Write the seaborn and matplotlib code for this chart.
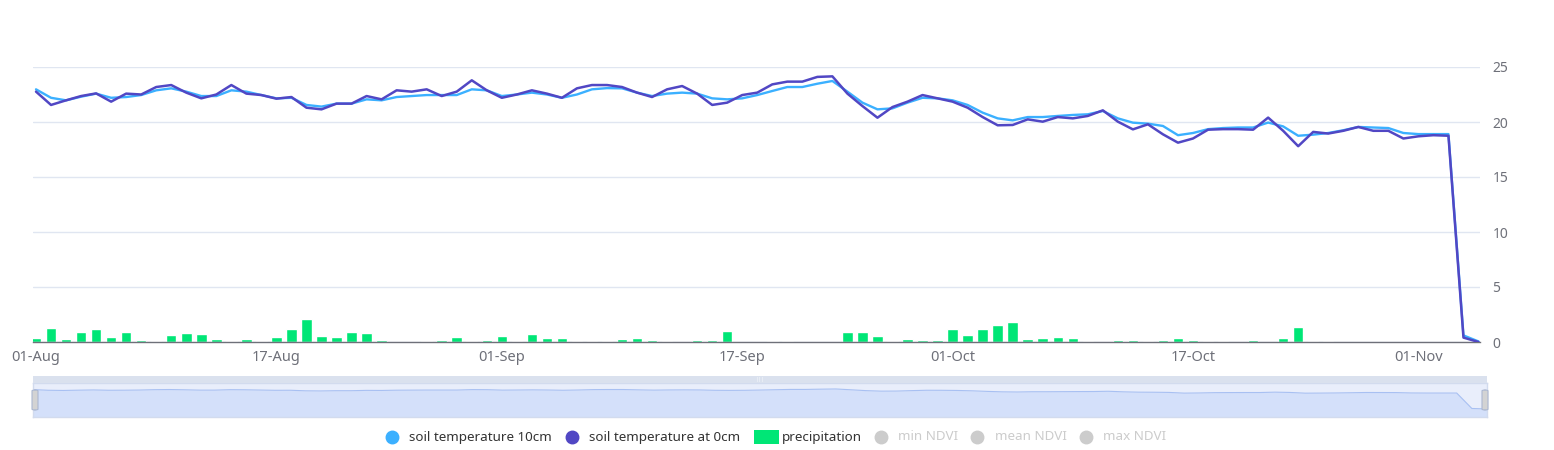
import numpy as np
import pandas as pd
import matplotlib
matplotlib.use("Agg")
import matplotlib.pyplot as plt
from matplotlib.lines import Line2D
from matplotlib.patches import Rectangle, FancyBboxPatch
import seaborn as sns

# daily values, 01-Aug .. 05-Nov
soil_10cm = [22.97, 22.2, 21.97, 22.3, 22.58, 22.2, 22.27, 22.45, 22.88, 23.06,
             22.76, 22.36, 22.36, 22.88, 22.76, 22.45, 22.15, 22.2, 21.55, 21.4,
             21.67, 21.67, 22.06, 21.97, 22.27, 22.36, 22.45, 22.45, 22.45, 22.97,
             22.88, 22.36, 22.5, 22.67, 22.5, 22.2, 22.5, 22.97, 23.08, 23.06,
             22.67, 22.36, 22.58, 22.67, 22.58, 22.15, 22.06, 22.15, 22.45, 22.82,
             23.18, 23.18, 23.48, 23.73, 22.76, 21.76, 21.15, 21.24, 21.76, 22.2,
             22.15, 21.97, 21.55, 20.85, 20.33, 20.15, 20.45, 20.45, 20.55, 20.64,
             20.7, 21.0, 20.33, 19.94, 19.85, 19.64, 18.8, 19.0, 19.35, 19.45,
             19.5, 19.5, 19.95, 19.6, 18.75, 18.85, 19.0, 19.25, 19.55, 19.5,
             19.45, 19.0, 18.9, 18.9, 18.9, 0.6, 0.05]
soil_0cm = [22.76, 21.55, 21.97, 22.36, 22.6, 21.85, 22.58, 22.5, 23.18, 23.36,
            22.67, 22.15, 22.5, 23.36, 22.58, 22.45, 22.12, 22.27, 21.3, 21.15,
            21.67, 21.67, 22.36, 22.06, 22.88, 22.76, 22.97, 22.36, 22.76, 23.79,
            22.88, 22.2, 22.5, 22.88, 22.58, 22.2, 23.06, 23.36, 23.36, 23.18,
            22.67, 22.27, 22.97, 23.27, 22.58, 21.55, 21.76, 22.45, 22.67, 23.42,
            23.67, 23.67, 24.1, 24.15, 22.58, 21.45, 20.39, 21.36, 21.85, 22.45,
            22.15, 21.85, 21.3, 20.45, 19.7, 19.73, 20.24, 20.03, 20.45, 20.33,
            20.55, 21.06, 20.03, 19.33, 19.79, 18.88, 18.12, 18.5, 19.3, 19.35,
            19.35, 19.3, 20.4, 19.2, 17.8, 19.1, 18.95, 19.2, 19.55, 19.2,
            19.2, 18.5, 18.7, 18.8, 18.75, 0.4, 0.0]
precipitation = [0.39, 1.25, 0.27, 0.94, 1.2, 0.45, 0.88, 0.18, 0.09, 0.64,
                 0.85, 0.7, 0.24, 0.09, 0.27, 0.12, 0.45, 1.18, 2.12, 0.55,
                 0.42, 0.88, 0.79, 0.15, 0.02, 0.0, 0.09, 0.18, 0.45, 0.09,
                 0.18, 0.52, 0.09, 0.73, 0.39, 0.39, 0.09, 0.09, 0.06, 0.27,
                 0.39, 0.21, 0.09, 0.0, 0.15, 0.18, 1.0, 0.03, 0.03, 0.09,
                 0.09, 0.0, 0.03, 0.0, 0.94, 0.88, 0.52, 0.09, 0.27, 0.15,
                 0.18, 1.15, 0.64, 1.21, 1.58, 1.85, 0.24, 0.39, 0.42, 0.39,
                 0.09, 0.03, 0.18, 0.18, 0.12, 0.18, 0.33, 0.15, 0.12, 0.12,
                 0.03, 0.18, 0.0, 0.39, 1.33, 0.12, 0.12, 0.03, 0.0, 0.0,
                 0.0, 0.0, 0.0, 0.0, 0.0, 0.0, 0.0]
tick_days = [0, 16, 31, 47, 61, 77, 92]
tick_labels = ["01-Aug", "17-Aug", "01-Sep", "17-Sep", "01-Oct", "17-Oct", "01-Nov"]
y_ticks = [0, 5, 10, 15, 20, 25]

df = pd.DataFrame({"day": np.arange(len(soil_10cm)), "soil_10cm": soil_10cm,
                   "soil_0cm": soil_0cm, "precipitation": precipitation})

BLUE = "#3BB0FF"
DARK = "#5147C4"
GREEN = "#00E676"
AXIS = "#6E7079"

sns.set_style("white")
plt.rcParams["font.family"] = ["Noto Sans", "DejaVu Sans"]

W, H = 1554, 450
fig = plt.figure(figsize=(W / 100, H / 100), dpi=100)

def fx(px):
    return px / W

def fy(py):
    return 1 - py / H

# main chart
ax = fig.add_axes([fx(33), fy(342), fx(1480 - 33), (342 - 67) / H])
sns.barplot(data=df, x="day", y="precipitation", native_scale=True, color=GREEN,
            saturation=1, width=0.7, errorbar=None, ax=ax, zorder=2)
sns.lineplot(data=df, x="day", y="soil_10cm", color=BLUE, lw=1.7, ax=ax, zorder=3,
             solid_joinstyle="round", solid_capstyle="round")
sns.lineplot(data=df, x="day", y="soil_0cm", color=DARK, lw=1.8, ax=ax, zorder=4,
             solid_joinstyle="round", solid_capstyle="round")

ax.set_xlim(-0.2, 96.1)
ax.set_ylim(0, 25)
ax.set_xticks(tick_days)
ax.set_xticklabels(tick_labels)
ax.set_yticks(y_ticks)
ax.yaxis.tick_right()
ax.set_xlabel("")
ax.set_ylabel("")
ax.grid(axis="y", color="#E0E6F1", lw=1, zorder=0)
ax.grid(axis="x", visible=False)
for s in ["top", "left", "right"]:
    ax.spines[s].set_visible(False)
ax.spines["bottom"].set_color(AXIS)
ax.spines["bottom"].set_linewidth(1)
ax.tick_params(axis="y", length=0, pad=9, labelcolor=AXIS, labelsize=10)
ax.tick_params(axis="x", length=4, width=1, color=AXIS, pad=2,
               labelcolor=AXIS, labelsize=10.5)

# data zoom slider
fig.patches.append(Rectangle((fx(33), fy(383)), fx(1487 - 33), (383 - 376) / H,
                             transform=fig.transFigure, facecolor="#DAE1EE",
                             edgecolor="none", zorder=1))
sax = fig.add_axes([fx(33), fy(417), fx(1487 - 33), (417 - 383) / H])
sax.set_facecolor("#E9EEFB")
sns.lineplot(data=df, x="day", y="soil_10cm", color="#A8C0F2", lw=0.8, ax=sax)
sax.fill_between(df["day"], df["soil_10cm"], -20, color="#D4E0FA", lw=0)
sax.set_xlim(0, 96)
sax.set_ylim(-9.5, 30.8)
sax.set_xticks([])
sax.set_yticks([])
sax.set_xlabel("")
sax.set_ylabel("")
for s in sax.spines.values():
    s.set_color("#D2DBEE")
    s.set_linewidth(1)

for hx in (35, 1485):
    fig.patches.append(FancyBboxPatch((fx(hx - 3), fy(410)), fx(6), 20 / H,
                                      boxstyle="round,pad=0,rounding_size=0.002",
                                      transform=fig.transFigure, facecolor="#D3D3D3",
                                      edgecolor="#ACB8D1", lw=0.8, zorder=5))
fig.text(fx(760), fy(380), "|||", fontsize=4, color="#FFFFFF", ha="center",
         va="center")

# legend
legend_items = [
    ("soil temperature 10cm", BLUE, "o", 392, 409, "#333333"),
    ("soil temperature at 0cm", DARK, "o", 572, 589, "#333333"),
    ("precipitation", GREEN, "s", 766, 782, "#333333"),
    ("min NDVI", "#CCCCCC", "o", 881, 898, "#CCCCCC"),
    ("mean NDVI", "#CCCCCC", "o", 977, 995, "#CCCCCC"),
    ("max NDVI", "#CCCCCC", "o", 1086, 1103, "#CCCCCC"),
]
ly = fy(437)
for label, col, mk, mx, tx, tcol in legend_items:
    if mk == "s":
        fig.patches.append(Rectangle((fx(mx - 12), fy(444)), fx(25), 14 / H,
                                     transform=fig.transFigure, facecolor=col,
                                     edgecolor="none"))
    else:
        fig.lines.append(Line2D([fx(mx)], [ly], marker="o", markersize=9,
                                color=col, ls="", transform=fig.transFigure))
    fig.text(fx(tx), ly, label, fontsize=9.7, color=tcol, ha="left", va="center")

fig.savefig("out.png", dpi=100)
